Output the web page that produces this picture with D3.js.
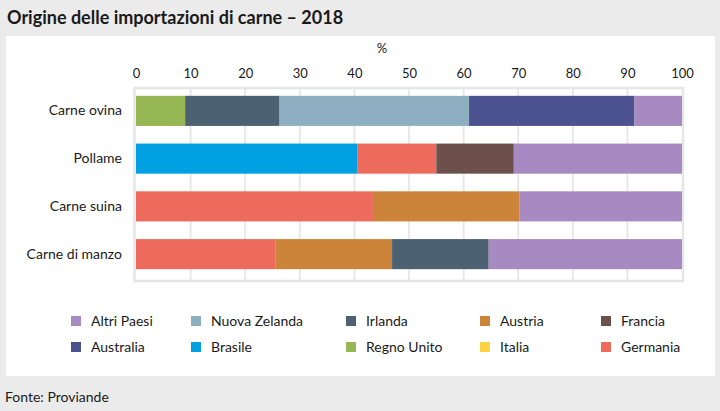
<!DOCTYPE html>
<html><head><meta charset="utf-8">
<script src="https://cdn.jsdelivr.net/npm/d3@7"></script>
<style>
html,body{margin:0;padding:0;background:#ebebeb;}
svg{display:block;font-family:Lato,"Open Sans",sans-serif;}
</style></head>
<body>
<svg id="c" width="720" height="411"></svg>
<script>
const categories = ["Carne ovina", "Pollame", "Carne suina", "Carne di manzo"];
const seriesNames = ["Regno Unito", "Brasile", "Germania", "Italia", "Francia", "Austria", "Irlanda", "Nuova Zelanda", "Australia", "Altri Paesi"];
const regnoUnito   = [9.0, 0, 0, 0];
const brasile      = [0, 40.5, 0, 0];
const germania     = [0, 14.5, 43.4, 25.6];
const italia       = [0, 0, 0, 0];
const francia      = [0, 14.2, 0, 0];
const austria      = [0, 0, 26.8, 21.3];
const irlanda      = [17.3, 0, 0, 17.7];
const nuovaZelanda = [34.7, 0, 0, 0];
const australia    = [30.3, 0, 0, 0];
const altriPaesi   = [8.7, 30.8, 29.8, 35.4];
const seriesValues = [regnoUnito, brasile, germania, italia, francia, austria, irlanda, nuovaZelanda, australia, altriPaesi];
const seriesColors = ["#97b755", "#00a0e2", "#ec6b5c", "#fdd13f", "#6d4f4c", "#cb8439", "#4c6272", "#8eafc2", "#4c528f", "#a78ac1"];
const legendOrder = ["Altri Paesi", "Nuova Zelanda", "Irlanda", "Austria", "Francia", "Australia", "Brasile", "Regno Unito", "Italia", "Germania"];
const ticks = [0, 10, 20, 30, 40, 50, 60, 70, 80, 90, 100];
const title = "Origine delle importazioni di carne – 2018";
const source = "Fonte: Proviande";

const svg = d3.select("#c");
// background panels
svg.append("rect").attr("x",0).attr("y",0).attr("width",720).attr("height",411).attr("fill","#ebebeb");
svg.append("rect").attr("x",6).attr("y",36).attr("width",709).attr("height",340).attr("fill","#ffffff");
svg.append("text").attr("x",7).attr("y",24).attr("font-size",18).attr("font-weight",700).attr("fill","#1a1a1a").text(title);
svg.append("text").attr("x",5).attr("y",402).attr("font-size",14).attr("fill","#1a1a1a").text(source);

const x = d3.scaleLinear().domain([0,100]).range([136,682]);
const y = d3.scaleBand().domain(categories).range([87,278]).paddingInner(0.37).paddingOuter(0.185);

// grid
const g = svg.append("g");
g.selectAll("line.grid").data(ticks.slice(1,-1)).join("line")
  .attr("x1",d=>x(d)).attr("x2",d=>x(d)).attr("y1",88).attr("y2",281)
  .attr("stroke","#e8e8e8").attr("stroke-width",2);
g.append("rect").attr("x",x(0)-1.5).attr("y",88).attr("width",x(100)-x(0)+2.5).attr("height",193)
  .attr("fill","none").attr("stroke","#e6e6e6").attr("stroke-width",2.5);

// stacked bars
const rows = categories.map((c,i)=>{ const o={cat:c}; seriesNames.forEach((s,j)=>o[s]=seriesValues[j][i]); return o; });
const stack = d3.stack().keys(seriesNames)(rows);
const color = d3.scaleOrdinal().domain(seriesNames).range(seriesColors);
svg.append("g").selectAll("g").data(stack).join("g").attr("fill",d=>color(d.key))
  .selectAll("rect").data(d=>d.filter(p=>p[1]-p[0]>0)).join("rect")
  .attr("x",d=>x(d[0])).attr("width",d=>x(d[1])-x(d[0]))
  .attr("y",d=>y(d.data.cat)).attr("height",y.bandwidth());

// axis top
const ax = svg.append("g").attr("transform","translate(0,78)").call(d3.axisTop(x).tickValues(ticks).tickSize(0).tickPadding(0).tickFormat(d3.format("d")));
ax.select(".domain").remove();
ax.selectAll("text").attr("font-size",13).attr("fill","#1a1a1a").attr("font-family","Lato,sans-serif");
svg.append("text").attr("x",382).attr("y",53).attr("text-anchor","middle").attr("font-size",13).attr("fill","#1a1a1a").text("%");

// category axis
const ay = svg.append("g").attr("transform","translate(122,0)").call(d3.axisLeft(y).tickSize(0).tickPadding(0));
ay.select(".domain").remove();
ay.selectAll("text").attr("font-size",14).attr("fill","#1a1a1a").attr("font-family","Lato,sans-serif");

// legend
const legX = [71, 191, 346, 480, 601];
const legY = [321, 347];
const leg = svg.append("g").selectAll("g").data(legendOrder).join("g")
  .attr("transform",(d,i)=>`translate(${legX[i%5]},${legY[Math.floor(i/5)]})`);
leg.append("rect").attr("x",0).attr("y",-5).attr("width",10).attr("height",10).attr("fill",d=>color(d));
leg.append("text").attr("x",d=>20).attr("y",5).attr("font-size",14).attr("fill","#1a1a1a").text(d=>d);
</script>
</body></html>
